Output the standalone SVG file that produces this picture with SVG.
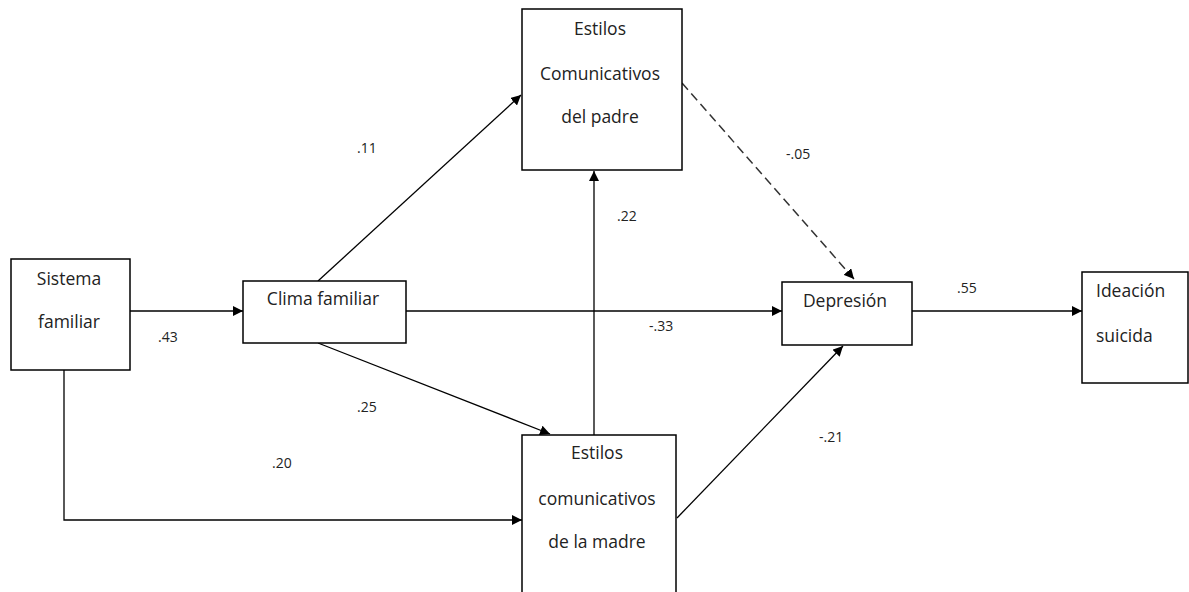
<svg xmlns="http://www.w3.org/2000/svg" width="1189" height="592" viewBox="0 0 1189 592">
<style>
.box{fill:#fff;stroke:#000;stroke-width:1.5}
.t{font-family:"Open Sans","DejaVu Sans",sans-serif;font-size:17.5px;fill:#222}
.c{text-anchor:middle}
.n{font-family:"Open Sans","DejaVu Sans",sans-serif;font-size:14px;fill:#222}
.ln{stroke:#000;stroke-width:1.3;fill:none}
.dash{stroke:#333;stroke-width:1.5;fill:none;stroke-dasharray:9,5}
</style>
<defs>
<marker id="ah" viewBox="0 0 10 10" refX="10" refY="5" markerWidth="10" markerHeight="10" markerUnits="userSpaceOnUse" orient="auto"><path d="M0,0 L10,5 L0,10 z" fill="#000"/></marker>
</defs>
<rect width="1189" height="592" fill="#fff"/>
<g id="connectors">
<line class="ln" x1="130" y1="311" x2="243" y2="311" marker-end="url(#ah)"/>
<polyline class="ln" points="64,370 64,520 522,520" marker-end="url(#ah)"/>
<line class="ln" x1="318" y1="281" x2="521" y2="95" marker-end="url(#ah)"/>
<line class="ln" x1="318" y1="343" x2="550" y2="434" marker-end="url(#ah)"/>
<line class="ln" x1="406" y1="311" x2="782" y2="311" marker-end="url(#ah)"/>
<line class="ln" x1="594" y1="435" x2="594" y2="171" marker-end="url(#ah)"/>
<line class="dash" x1="682" y1="83" x2="854" y2="279" marker-end="url(#ah)"/>
<line class="ln" x1="677" y1="518" x2="843" y2="346" marker-end="url(#ah)"/>
<line class="ln" x1="912" y1="311" x2="1082" y2="311" marker-end="url(#ah)"/>
<text class="n" x="158" y="342">.43</text>
<text class="n" x="357" y="153">.11</text>
<text class="n" x="357" y="412">.25</text>
<text class="n" x="272" y="468">.20</text>
<text class="n" x="617" y="221">.22</text>
<text class="n" x="786" y="159">-.05</text>
<text class="n" x="649" y="331">-.33</text>
<text class="n" x="819" y="442">-.21</text>
<text class="n" x="957" y="293">.55</text>
</g>
<g id="sistema">
<rect class="box" x="11" y="259" width="119" height="111"/>
<text class="t c" x="69" y="285">Sistema</text>
<text class="t c" x="69" y="328">familiar</text>
</g>
<g id="clima">
<rect class="box" x="243" y="281" width="163" height="62"/>
<text class="t c" x="323" y="305">Clima familiar</text>
</g>
<g id="padre">
<rect class="box" x="522" y="9" width="160" height="161"/>
<text class="t c" x="600" y="35">Estilos</text>
<text class="t c" x="600" y="80">Comunicativos</text>
<text class="t c" x="600" y="123">del padre</text>
</g>
<g id="madre">
<rect class="box" x="522" y="435" width="154" height="170"/>
<text class="t c" x="597" y="459">Estilos</text>
<text class="t c" x="597" y="505">comunicativos</text>
<text class="t c" x="597" y="548">de la madre</text>
</g>
<g id="depresion">
<rect class="box" x="782" y="282" width="130" height="63"/>
<text class="t c" x="845" y="307">Depresión</text>
</g>
<g id="ideacion">
<rect class="box" x="1082" y="272" width="106" height="111"/>
<text class="t" x="1096" y="297">Ideación</text>
<text class="t" x="1096" y="342">suicida</text>
</g>
</svg>
